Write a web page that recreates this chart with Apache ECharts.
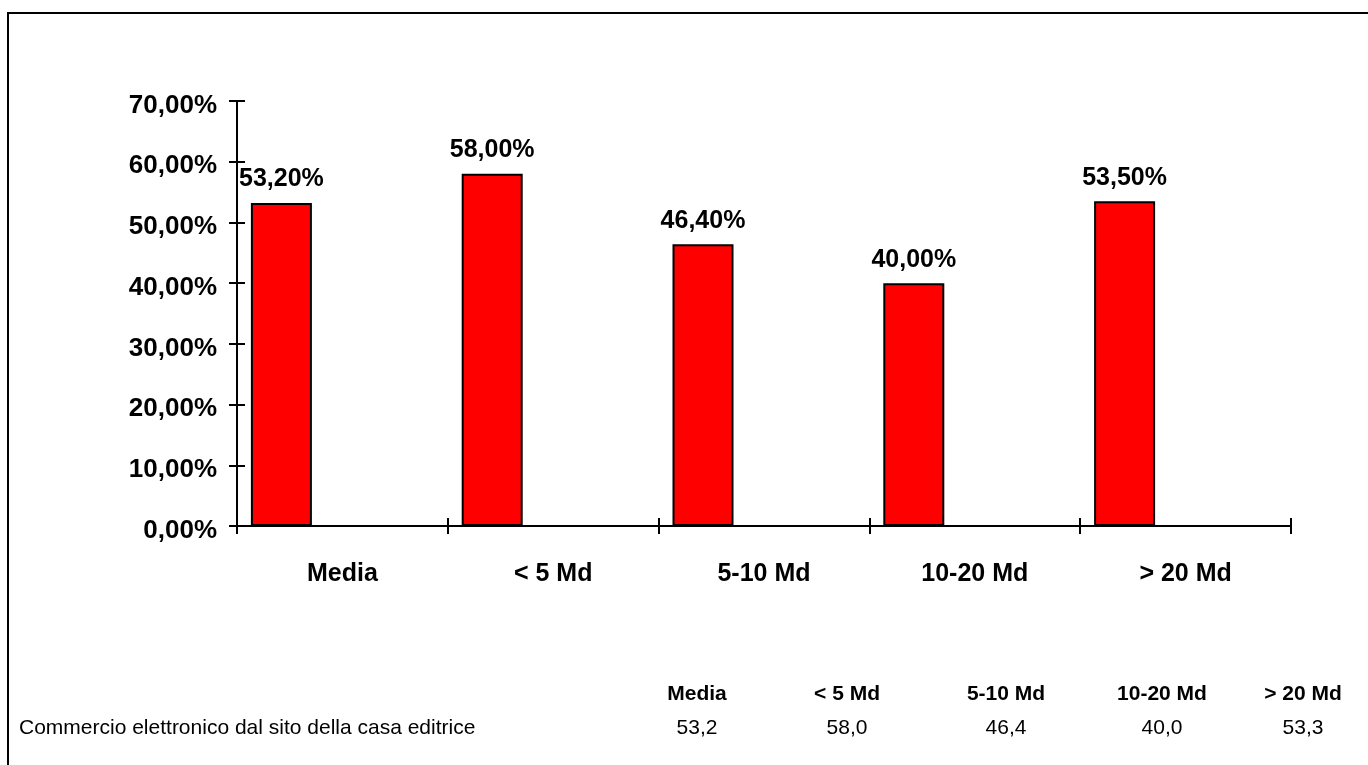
<!DOCTYPE html>
<html>
<head>
<meta charset="utf-8">
<script src="https://cdn.jsdelivr.net/npm/echarts@6/dist/echarts.min.js"></script>
<style>
  html, body { margin: 0; padding: 0; background: #ffffff; }
  #chart { width: 1368px; height: 765px; }
</style>
</head>
<body>
<div id="chart"></div>
<script>
// Categories (dimensione casa editrice) and percentage values
const categories = ['Media', '< 5 Md', '5-10 Md', '10-20 Md', '> 20 Md'];
const values = [53.2, 58.0, 46.4, 40.0, 53.5];

// Data table shown below the chart
const tableRowLabel = 'Commercio elettronico dal sito della casa editrice';
const tableHeaders = ['Media', '< 5 Md', '5-10 Md', '10-20 Md', '> 20 Md'];
const tableValues = ['53,2', '58,0', '46,4', '40,0', '53,3'];

// Y axis ticks
const yMin = 0, yMax = 70, yStep = 10;

const FONT = '"Liberation Sans", Arial, sans-serif';
const fmtPct = v => v.toFixed(2).replace('.', ',') + '%';

// Column centres of the data table
const tableCols = [697, 847, 1006, 1162, 1303];

const chart = echarts.init(document.getElementById('chart'), null, { renderer: 'canvas' });

const graphics = [
  {
    type: 'rect',
    shape: { x: 8, y: 13, width: 1400, height: 800 },
    style: { fill: 'none', stroke: '#000', lineWidth: 2 },
    silent: true
  },
  {
    type: 'text',
    x: 19, y: 728,
    style: { text: tableRowLabel, font: '21px ' + FONT, fill: '#000', align: 'left', verticalAlign: 'middle' }
  }
];
tableHeaders.forEach((h, i) => {
  graphics.push({
    type: 'text', x: tableCols[i], y: 694,
    style: { text: h, font: 'bold 21px ' + FONT, fill: '#000', align: 'center', verticalAlign: 'middle' }
  });
  graphics.push({
    type: 'text', x: tableCols[i], y: 728,
    style: { text: tableValues[i], font: '21px ' + FONT, fill: '#000', align: 'center', verticalAlign: 'middle' }
  });
});

chart.setOption({
  animation: false,
  backgroundColor: '#ffffff',
  grid: { left: 237, right: 77, top: 101, bottom: 239, containLabel: false },
  xAxis: [
    {
      type: 'category',
      data: categories,
      boundaryGap: true,
      axisLine: { lineStyle: { color: '#000', width: 2 } },
      axisTick: { show: true, length: 8, inside: false, lineStyle: { color: '#000', width: 2 } },
      axisLabel: { color: '#000', fontFamily: FONT, fontWeight: 'bold', fontSize: 25, margin: 36 },
      splitLine: { show: false }
    },
    {
      type: 'category',
      data: categories,
      position: 'bottom',
      boundaryGap: true,
      axisLine: { show: false },
      axisTick: { show: true, length: 8, inside: true, lineStyle: { color: '#000', width: 2 } },
      axisLabel: { show: false },
      splitLine: { show: false }
    }
  ],
  yAxis: [
    {
      type: 'value',
      min: yMin, max: yMax, interval: yStep,
      axisLine: { show: true, lineStyle: { color: '#000', width: 2 } },
      axisTick: { show: true, length: 8, inside: false, lineStyle: { color: '#000', width: 2 } },
      axisLabel: {
        color: '#000', margin: 20,
        formatter: v => '{t|' + fmtPct(v) + '}',
        rich: {
          t: { fontFamily: FONT, fontWeight: 'bold', fontSize: 26, color: '#000', padding: [9, 0, 0, 0] }
        }
      },
      splitLine: { show: false }
    },
    {
      type: 'value',
      position: 'left',
      min: yMin, max: yMax, interval: yStep,
      axisLine: { show: false },
      axisTick: { show: true, length: 8, inside: true, lineStyle: { color: '#000', width: 2 } },
      axisLabel: { show: false },
      splitLine: { show: false }
    }
  ],
  series: [
    {
      name: 'Commercio elettronico',
      type: 'bar',
      data: values,
      barWidth: 61,
      barGap: '100%',
      itemStyle: { color: '#ff0000', borderColor: '#000', borderWidth: 2 },
      label: {
        show: true, position: 'top', distance: 11,
        color: '#000', fontFamily: FONT, fontWeight: 'bold', fontSize: 25,
        formatter: p => fmtPct(p.value)
      }
    },
    {
      // empty companion series keeps each bar on the left side of its slot
      name: 'spazio',
      type: 'bar',
      data: categories.map(() => null),
      barWidth: 61,
      itemStyle: { color: 'transparent' },
      silent: true
    }
  ],
  graphic: graphics
});
</script>
</body>
</html>
